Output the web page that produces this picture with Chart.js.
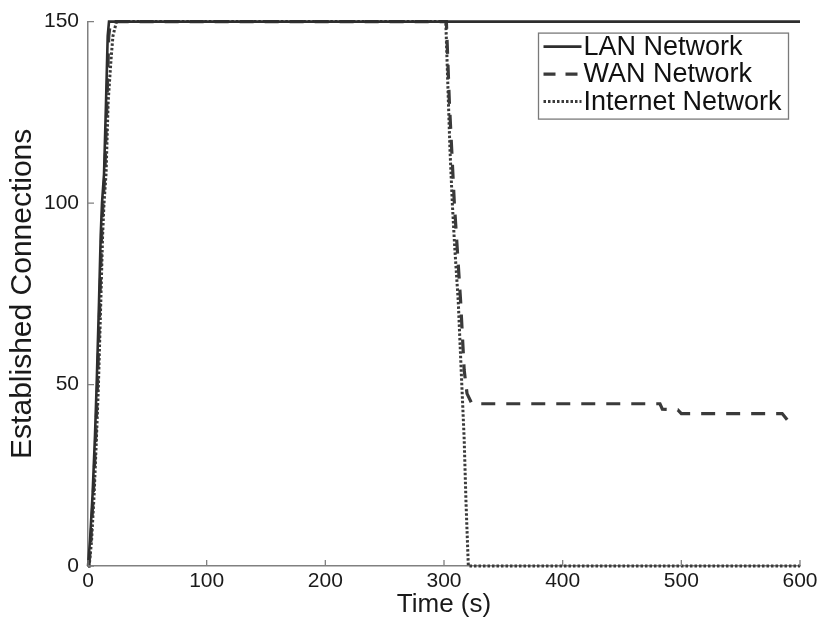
<!DOCTYPE html>
<html>
<head>
<meta charset="utf-8">
<script src="https://cdn.jsdelivr.net/npm/chart.js@4/dist/chart.umd.min.js"></script>
<style>
  html, body { margin: 0; padding: 0; background: #ffffff; }
  canvas { display: block; }
</style>
</head>
<body>
<canvas id="chart" width="821" height="624"></canvas>
<script>
// ---------- data ----------
const seriesNames = ['LAN Network', 'WAN Network', 'Internet Network'];

const lanTime = [0, 0.3, 1.7, 3.9, 5.9, 7.3, 9.3, 10.7, 11.8, 13.5, 15.2, 16.6, 17.7, 600];
const lanConn = [0, 0, 7, 20, 36, 50, 73, 91, 100, 108, 128, 146, 150, 150];

const wanTime = [0, 0.8, 2.4, 4.5, 6.6, 8.0, 10.0, 11.5, 12.6, 14.2, 16.0, 17.5, 19.0,
                 302, 304.5, 308.7, 314, 317, 319.4, 323.5, 482, 484, 497, 500, 585, 588, 591];
const wanConn = [0, 0, 7, 20, 36, 50, 73, 91, 100, 108, 128, 146, 150,
                 150, 128, 100, 73, 54, 47.5, 44.7, 44.7, 43.2, 43, 42, 42, 40.8, 39.5];

const netTime = [0, 1.0, 3.0, 5.2, 7.2, 8.8, 10.8, 12.3, 13.5, 15.2, 17.0, 19.5, 21.0, 24.0,
                 301.5, 303, 305, 307, 309, 312, 315, 317, 318.5, 320.5, 600];
const netConn = [0, 0, 7, 20, 36, 50, 73, 91, 100, 108, 128, 140, 146, 150,
                 150, 135, 115, 100, 88, 73, 50, 35, 18, 0, 0];

const xTicks = [0, 100, 200, 300, 400, 500, 600];
const yTicks = [0, 50, 100, 150];

// ---------- helpers ----------
const FONT = "'Liberation Sans', Arial, Helvetica, sans-serif";
const toPoints = (xs, ys) => xs.map((x, i) => ({ x: x, y: ys[i] }));

// inward tick marks (MATLAB style)
const inwardTicks = {
  id: 'inwardTicks',
  afterDraw(chart) {
    const ctx = chart.ctx;
    const xs = chart.scales.x, ys = chart.scales.y;
    ctx.save();
    ctx.strokeStyle = '#808080';
    ctx.lineWidth = 1.3;
    ctx.beginPath();
    xs.ticks.forEach(t => {
      const px = xs.getPixelForValue(t.value);
      ctx.moveTo(px, ys.bottom);
      ctx.lineTo(px, ys.bottom - 6);
    });
    ys.ticks.forEach(t => {
      const py = ys.getPixelForValue(t.value);
      ctx.moveTo(xs.left, py);
      ctx.lineTo(xs.left + 6, py);
    });
    ctx.stroke();
    ctx.restore();
  }
};

// boxed legend inside the plot area
const boxLegend = {
  id: 'boxLegend',
  afterDraw(chart) {
    const ctx = chart.ctx;
    const area = chart.chartArea;
    const w = 250, h = 86;
    const x0 = area.right - 12 - w + 0.5;
    const y0 = area.top + 11 + 0.5;
    ctx.save();
    ctx.fillStyle = '#ffffff';
    ctx.fillRect(x0, y0, w, h);
    ctx.strokeStyle = '#7a7a7a';
    ctx.lineWidth = 1.3;
    ctx.strokeRect(x0, y0, w, h);
    chart.data.datasets.forEach((ds, i) => {
      const ry = y0 + 13.5 + i * 27.5;
      ctx.beginPath();
      ctx.setLineDash(ds.legendDash || ds.borderDash || []);
      ctx.lineWidth = ds.borderWidth;
      ctx.strokeStyle = ds.borderColor;
      ctx.moveTo(x0 + 5, ry);
      ctx.lineTo(x0 + 43, ry);
      ctx.stroke();
      ctx.setLineDash([]);
      ctx.fillStyle = '#111111';
      ctx.font = '27px ' + FONT;
      ctx.textBaseline = 'middle';
      ctx.textAlign = 'left';
      ctx.fillText(ds.label, x0 + 45, ry + 0.5);
    });
    ctx.restore();
  }
};

// ---------- chart ----------
new Chart(document.getElementById('chart'), {
  type: 'line',
  data: {
    datasets: [
      {
        label: seriesNames[0],
        data: toPoints(lanTime, lanConn),
        borderColor: '#2e2e2e',
        borderWidth: 2.6,
        borderDash: [],
        clip: false
      },
      {
        label: seriesNames[1],
        data: toPoints(wanTime, wanConn),
        borderColor: '#3a3a3a',
        borderWidth: 3.2,
        borderDash: [14, 11],
        legendDash: [12, 10],
        clip: false
      },
      {
        label: seriesNames[2],
        data: toPoints(netTime, netConn),
        borderColor: '#3a3a3a',
        borderWidth: 3,
        borderDash: [2.5, 2],
        clip: false
      }
    ]
  },
  options: {
    responsive: false,
    animation: false,
    devicePixelRatio: 1,
    layout: { padding: { left: 0, right: 21, top: 19, bottom: 0 } },
    elements: {
      point: { radius: 0, hoverRadius: 0 },
      line: { tension: 0, fill: false, borderCapStyle: 'butt', borderJoinStyle: 'miter' }
    },
    plugins: {
      legend: { display: false },
      tooltip: { enabled: false }
    },
    scales: {
      x: {
        type: 'linear',
        min: 0, max: 600,
        afterBuildTicks: s => { s.ticks = xTicks.map(v => ({ value: v })); },
        afterFit: s => { s.height = 58; },
        grid: { display: false, drawTicks: false },
        border: { display: true, color: '#808080', width: 1.5 },
        ticks: {
          padding: 3,
          color: '#1a1a1a',
          font: { family: FONT, size: 21 },
          maxRotation: 0
        },
        title: {
          display: true,
          text: 'Time (s)',
          color: '#1a1a1a',
          font: { family: FONT, size: 26 },
          padding: { top: 0, bottom: 4 }
        }
      },
      y: {
        type: 'linear',
        min: 0, max: 150,
        afterBuildTicks: s => { s.ticks = yTicks.map(v => ({ value: v })); },
        afterFit: s => { s.width = 88; },
        grid: { display: false, drawTicks: false },
        border: { display: true, color: '#808080', width: 1.5 },
        ticks: {
          padding: 9,
          color: '#1a1a1a',
          font: { family: FONT, size: 21 }
        },
        title: {
          display: true,
          text: 'Established Connections',
          color: '#1a1a1a',
          font: { family: FONT, size: 30 },
          padding: { top: 5, bottom: 0 }
        }
      }
    }
  },
  plugins: [inwardTicks, boxLegend]
});
</script>
</body>
</html>
